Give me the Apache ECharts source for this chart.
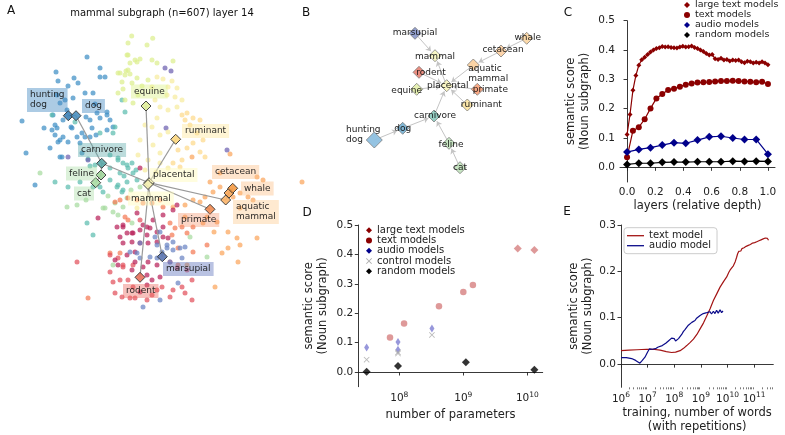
<!DOCTYPE html>
<html><head><meta charset="utf-8">
<script src="https://cdn.jsdelivr.net/npm/echarts@6/dist/echarts.min.js"></script>
<style>html,body{margin:0;padding:0;background:#fff}#c{width:785px;height:435px}</style>
</head><body><div id="c"></div>
<script>
const FONT = 'DejaVu Sans';
// ---------- Panel A: 2-D embedding of the mammal subgraph (layer 14) ----------
const aBlue = [[87,57],[56,72],[58,81],[74,78],[78,83],[68,86],[100,68],[100,77],[85,93],[53,115],[22,121],[67,110],[63,120],[71,127],[57,128],[55,135],[63,137],[58,142],[68,142],[82,133],[90,137],[96,135],[92,128],[86,117],[97,113],[100,118],[107,115],[62,157],[26,153],[35,185],[80,143],[110,120],[107,130],[73,98],[60,103],[95,104],[44,128],[105,77],[93,93],[57,95],[65,100],[55,125],[72,128],[52,130],[60,140],[77,137],[85,137],[90,120],[107,112],[113,127],[50,148],[60,157],[82,153]];
const aTeal = [[100,133],[115,127],[113,133],[88,159],[55,182],[68,187],[80,182],[90,166],[110,168],[110,180],[103,192],[120,173],[123,163],[128,168],[133,173],[137,180],[127,182],[132,163],[117,187],[122,192],[100,187],[93,187],[87,223],[93,235],[52,115],[75,122],[118,158],[124,176],[125,112],[122,100],[95,165],[110,155],[118,160],[127,165],[118,185],[123,190],[136,170]];
const aGreen = [[40,173],[77,205],[105,208],[115,203],[123,207],[118,215],[132,223],[67,207],[113,265],[190,237],[207,257],[108,196],[86,200],[140,187],[131,190],[127,198],[113,212],[103,208]];
const aPurple = [[165,68],[171,71],[166,128],[227,150],[68,157],[88,160]];
const aYellowGreen = [[131.7,36],[152.7,38.3],[128,43],[147,45],[128,55],[135,60],[140,59],[152,60],[157,63],[173,61],[126,71],[118,73],[130,74],[137,78],[148,80],[122,82],[132,83],[123,89],[125,100],[133,103],[142,86],[118,93],[138,95],[127,55],[130,63],[137,62],[120,73],[125,75],[128,70]];
const aPaleYellow = [[157,77],[163,79],[172,81],[152,87],[168,87],[177,88],[167,95],[175,97],[155,100],[160,107],[168,110],[177,107],[182,100],[157,118],[152,127],[160,135],[168,132],[153,145],[148,160],[160,153],[160,163],[168,168],[140,140],[145,125],[138,155],[145,170],[156,172],[137,208]];
const aYellow = [[182,115],[187,113],[193,118],[200,120],[185,120],[197,133],[203,140],[193,143],[187,148],[200,152],[205,157],[182,160],[173,163],[180,167],[190,125],[178,150]];
const aOrange = [[192,157],[230,154],[220,173],[210,182],[220,187],[213,192],[205,197],[193,200],[200,202],[233,197],[240,193],[248,197],[253,200],[257,177],[263,180],[302,182],[203,223],[217,222],[228,232],[237,238],[240,245],[257,238],[228,248],[222,253],[238,262],[215,287],[207,217],[185,217],[185,205],[173,207],[240,208],[214,232],[187,265]];
const aSalmon = [[163,207],[152,203],[143,203],[137,200],[128,198],[120,200],[115,202],[193,227],[193,252],[187,233],[182,227],[175,228],[170,223],[110,253],[120,253],[88,298],[125,217],[207,245],[160,200],[172,235],[178,248],[128,220],[178,265]];
const aRed = [[77,262],[140,220],[88,335],[125,348],[115,362],[118,322],[127,327],[125,332],[133,323],[138,317],[155,333],[150,347],[142,315],[147,300],[152,295],[157,290],[162,287],[173,290],[170,297],[175,322],[182,287],[185,293],[192,300],[192,280],[187,270],[177,268],[113,282],[120,280],[128,280],[133,287],[115,293],[122,297],[130,298],[135,298],[110,272],[123,267],[110,255],[123,265],[133,265],[170,262],[118,258]];
const aCrimson = [[98,218],[140,168],[117,227],[123,225],[147,227],[153,220],[157,232],[163,227],[118,265],[115,260],[135,262],[132,270],[143,267],[147,275],[160,277],[147,285],[152,280],[140,292],[163,237],[157,242],[148,243],[140,243],[132,242],[123,243],[120,237],[127,233],[133,233],[140,230],[147,235],[163,215],[173,210],[177,205],[137,213],[168,238],[123,227],[132,233],[143,225],[150,228],[135,252],[127,255],[148,262],[157,265]];
const aSlate = [[185,247],[180,248],[173,250],[170,262],[143,307],[182,258],[167,245],[173,242],[130,252],[137,253],[140,258],[150,257],[157,258],[162,252],[155,237],[178,283],[160,300],[160,232],[167,248],[157,245],[140,243]];
// concept nodes (name, dim1, dim2)
const aNodes = [['hunting dog',68.3,115.7],['dog',76,115.7],['equine',146,106],['ruminant',175.7,139.3],['carnivore',101.7,163.3],['feline',101,175],['cat',95.7,182.7],['placental',149,182.7],['mammal',148,184.5],['cetacean',229,193],['whale',232.7,188.3],['aquatic mammal',225.7,200],['primate',210,209.3],['marsupial',162.3,256.7],['rodent',140,277.3]];
// ---------- Panel B: hypernym graph (child -> parent) ----------
const bNodes = [['marsupial',85,33.3],['mammal',105,55.7],['rodent',89,72.3],['placental',116.7,85.7],['equine',86.7,89.3],['aquatic mammal',143.3,65],['primate',147.3,89.3],['ruminant',137.3,105],['cetacean',171,51],['whale',196.7,38.3],['carnivore',104,116],['dog',72.7,128.3],['hunting dog',44.3,140],['feline',119,143.3],['cat',130,167.7]];
const edges = [['hunting dog','dog'],['dog','carnivore'],['cat','feline'],['feline','carnivore'],['carnivore','placental'],['equine','placental'],['ruminant','placental'],['rodent','placental'],['primate','placental'],['aquatic mammal','placental'],['cetacean','aquatic mammal'],['whale','cetacean'],['placental','mammal'],['marsupial','mammal']];
// ---------- Panel C: semantic score vs relative layer depth ----------
const cLargeText = [0.112,0.180,0.263,0.313,0.348,0.367,0.375,0.385,0.393,0.400,0.405,0.408,0.412,0.410,0.411,0.409,0.408,0.407,0.410,0.413,0.410,0.411,0.414,0.409,0.405,0.400,0.395,0.388,0.383,0.385,0.370,0.368,0.372,0.366,0.368,0.363,0.366,0.364,0.366,0.360,0.357,0.362,0.360,0.356,0.358,0.356,0.360,0.356,0.350];
const cText = [0.034,0.125,0.137,0.164,0.201,0.235,0.250,0.264,0.268,0.275,0.282,0.286,0.289,0.290,0.291,0.293,0.294,0.294,0.295,0.294,0.293,0.292,0.290,0.292,0.284];
const cAudio = [0.052,0.061,0.067,0.076,0.084,0.082,0.093,0.104,0.106,0.100,0.095,0.095,0.045];
const cRandom = [0.010,0.014,0.014,0.017,0.018,0.018,0.019,0.019,0.019,0.021,0.020,0.021,0.020];
// ---------- Panel D: semantic score vs log10(number of parameters) ----------
const dLargeText = [[9.85,0.420],[10.11,0.415]];
const dText = [[7.855,0.117],[8.075,0.165],[8.62,0.224],[9.0,0.272],[9.15,0.296]];
const dAudio = [[7.49,0.083],[7.98,0.102],[7.98,0.076],[8.51,0.148]];
const dControl = [[7.49,0.042],[7.98,0.067],[7.98,0.063],[8.51,0.126]];
const dRandom = [[7.49,0.001],[7.98,0.020],[9.04,0.033],[10.11,0.008]];
// ---------- Panel E: semantic score vs log10(training words) ----------
const eText = [[6.0,0.029],[6.3,0.030],[6.6,0.031],[6.96,0.032],[7.2,0.032],[7.47,0.030],[7.7,0.027],[7.9,0.025],[8.05,0.026],[8.22,0.029],[8.35,0.034],[8.47,0.040],[8.6,0.047],[8.72,0.054],[8.85,0.064],[8.97,0.076],[9.1,0.089],[9.22,0.104],[9.35,0.120],[9.47,0.137],[9.6,0.152],[9.72,0.166],[9.85,0.178],[9.97,0.188],[10.05,0.198],[10.1,0.203],[10.16,0.206],[10.22,0.212],[10.29,0.221],[10.34,0.230],[10.38,0.238],[10.42,0.243],[10.46,0.246],[10.5,0.244],[10.54,0.249],[10.58,0.247],[10.62,0.251],[10.66,0.249],[10.7,0.254],[10.74,0.251],[10.78,0.256],[10.82,0.253],[10.86,0.258],[10.9,0.255],[10.94,0.261],[10.98,0.257],[11.02,0.262],[11.06,0.259],[11.1,0.264],[11.14,0.261],[11.18,0.266],[11.22,0.263],[11.26,0.268],[11.3,0.265],[11.34,0.270],[11.38,0.266],[11.42,0.272],[11.46,0.268],[11.5,0.271],[11.54,0.267]];
const eAudio = [[6.0,0.014],[6.2,0.014],[6.4,0.012],[6.55,0.008],[6.71,0.002],[6.8,0.008],[6.9,0.015],[7.0,0.026],[7.07,0.033],[7.12,0.035],[7.18,0.032],[7.25,0.036],[7.32,0.034],[7.4,0.037],[7.47,0.036],[7.55,0.040],[7.62,0.043],[7.68,0.045],[7.72,0.047],[7.78,0.050],[7.84,0.053],[7.9,0.056],[7.95,0.052],[8.0,0.055],[8.05,0.050],[8.1,0.053],[8.16,0.055],[8.22,0.059],[8.28,0.064],[8.34,0.070],[8.41,0.075],[8.47,0.079],[8.53,0.084],[8.6,0.088],[8.66,0.090],[8.72,0.093],[8.78,0.094],[8.84,0.099],[8.9,0.101],[8.97,0.105],[9.03,0.103],[9.09,0.109],[9.15,0.106],[9.22,0.111],[9.28,0.107],[9.34,0.113],[9.4,0.108],[9.47,0.114],[9.53,0.109],[9.59,0.116],[9.65,0.110],[9.72,0.117],[9.78,0.111],[9.83,0.115]];
const yTicksCD = [0,0.1,0.2,0.3,0.4,0.5];
const xTicksC = [0,0.2,0.4,0.6,0.8,1.0];
const yTicksE = [0,0.1,0.2,0.3];
const xDecadesD = [8,9,10];
const xDecadesE = [6,7,8,9,10,11];

// ---------- styles ----------
const aNodeStyle = {
 'hunting dog':{c:'#3a7fb5',bg:'rgba(70,140,195,0.5)',dx:-41.3,dy:-15.7,t:'hunting\ndog'},
 'dog':{c:'#4a8fbf',bg:'rgba(70,140,195,0.5)',dx:6,dy:-9.7},
 'equine':{c:'#e0ee9a',bg:'rgba(225,242,150,0.55)',dx:-15,dy:-14.5},
 'ruminant':{c:'#fcd77f',bg:'rgba(254,232,160,0.5)',dx:6.3,dy:-8.3},
 'carnivore':{c:'#5aa9a9',bg:'rgba(90,170,170,0.45)',dx:-23.7,dy:-13.3},
 'feline':{c:'#9fd49a',bg:'rgba(170,220,165,0.45)',dx:-35,dy:-1.5},
 'cat':{c:'#a9dba3',bg:'rgba(170,220,165,0.45)',dx:-21.7,dy:10.8},
 'placental':{c:'#f6f2b8',bg:'rgba(255,250,190,0.55)',dx:1,dy:-7.7},
 'mammal':{c:'#f4efb5',bg:'rgba(255,250,190,0.55)',dx:-20,dy:14},
 'cetacean':{c:'#f8a658',bg:'rgba(252,190,130,0.45)',dx:-17,dy:-21},
 'whale':{c:'#f49a45',bg:'rgba(252,190,130,0.45)',dx:8.3,dy:0.2},
 'aquatic mammal':{c:'#fbb469',bg:'rgba(252,200,140,0.45)',dx:7.3,dy:12,t:'aquatic\nmammal'},
 'primate':{c:'#f08a50',bg:'rgba(245,140,100,0.4)',dx:-32,dy:10.7},
 'marsupial':{c:'#5b74b0',bg:'rgba(100,120,190,0.5)',dx:0.7,dy:12.3},
 'rodent':{c:'#e8705a',bg:'rgba(235,100,90,0.45)',dx:-17,dy:13.7}
};
const bNodeStyle = {
 'marsupial':{c:'#8e9ccc',dx:0,dy:-1},'mammal':{c:'#f7f5c2',dx:0,dy:1},'rodent':{c:'#e8887a',dx:12,dy:0},
 'placental':{c:'#f9f4c0',dx:1,dy:0},'equine':{c:'#e6f0b0',dx:-10,dy:1},
 'aquatic mammal':{c:'#fcd2a0',dx:-5,dy:8.3,al:'left',t:'aquatic\nmammal'},
 'primate':{c:'#f9a47e',dx:13,dy:0},'ruminant':{c:'#fbe5a4',dx:14,dy:0},'cetacean':{c:'#fcd2a6',dx:2,dy:-1},
 'whale':{c:'#fcd8a6',dx:1,dy:-1},'carnivore':{c:'#8fcac0',dx:1,dy:0},'dog':{c:'#7ab3d4',dx:0,dy:0},
 'hunting dog':{c:'#8ec0e0',dx:-28.3,dy:-5.7,al:'left',t:'hunting\ndog',s:16},
 'feline':{c:'#c4e4bf',dx:2,dy:1},'cat':{c:'#c4e4bf',dx:0,dy:0}
};
const DARKRED = '#8b0000', NAVY = '#00008b';
const XPATH = 'path://M0,1L1,0L5,4L9,0L10,1L6,5L10,9L9,10L5,6L1,10L0,9L4,5Z';
const axLine = {lineStyle:{color:'#222',width:0.9}};
const axTick = (vals)=>({show:true,length:3.5,customValues:vals,lineStyle:{color:'#222',width:0.9}});
const axLab = (vals,fmt)=>({customValues:vals,fontFamily:FONT,fontSize:10.5,color:'#222',margin:5,formatter:fmt});
const nameStyle = {fontFamily:FONT,fontSize:11.5,color:'#222',lineHeight:14};
const logFmt = v=>'{b|10}{s|'+Math.round(v)+'}';
const logRich = {b:{fontFamily:FONT,fontSize:10.5,color:'#222'},s:{fontFamily:FONT,fontSize:7.5,color:'#222',padding:[0,0,7,0]}};
const minorE = [];
xDecadesE.forEach(d=>{for(let k=2;k<=9;k++){const v=d+Math.log10(k); if(v<11.72) minorE.push(v);}});

const hidden = (gi,min,max,inv)=>({type:'value',gridIndex:gi,min,max,show:false,inverse:!!inv});
const dotSeries = [[aBlue,'#3f8fc5'],[aTeal,'#5cbcae'],[aGreen,'#a6dba0'],[aPurple,'#6c5fb0'],[aYellowGreen,'#dcef8e'],[aPaleYellow,'#f6ec9e'],[aYellow,'#fdd98a'],[aOrange,'#fba55c'],[aSalmon,'#f47a55'],[aRed,'#e2505c'],[aCrimson,'#b8235a'],[aSlate,'#6a83c4']].map(([d,c])=>({
  type:'scatter',xAxisIndex:0,yAxisIndex:0,data:d,symbolSize:5,silent:true,z:1,
  itemStyle:{color:c,opacity:0.72}
}));

const option = {
 backgroundColor:'#fff', animation:false,
 textStyle:{fontFamily:FONT},
 grid:[
  {left:0,top:0,width:330,height:310},
  {left:330,top:0,width:220,height:220},
  {left:620,top:20.7,width:155,height:161.3},
  {left:358.3,top:225,width:184.4,height:161.7},
  {left:621,top:225,width:152.3,height:162.3}
 ],
 xAxis:[
  hidden(0,0,330), hidden(1,0,220),
  {type:'value',gridIndex:2,min:-0.05,max:1.05,axisLine:axLine,axisTick:axTick(xTicksC),axisLabel:axLab(xTicksC,v=>v.toFixed(1)),splitLine:{show:false},
   name:'layers (relative depth)',nameLocation:'middle',nameGap:14,nameTextStyle:nameStyle},
  {type:'value',gridIndex:3,min:7.36,max:10.24,axisLine:axLine,axisTick:axTick(xDecadesD),axisLabel:Object.assign(axLab(xDecadesD,logFmt),{rich:logRich,margin:4}),splitLine:{show:false},
   name:'number of parameters',nameLocation:'middle',nameGap:21,nameTextStyle:nameStyle},
  {type:'value',gridIndex:4,min:6,max:11.72,axisLine:axLine,axisTick:axTick(xDecadesE),axisLabel:Object.assign(axLab(xDecadesE,logFmt),{rich:logRich,margin:4}),splitLine:{show:false},
   name:'training, number of words\n(with repetitions)',nameLocation:'middle',nameGap:19,nameTextStyle:Object.assign({},nameStyle,{lineHeight:13.5,verticalAlign:'top'})},
  {type:'value',gridIndex:4,position:'bottom',min:6,max:11.72,axisLine:{show:false},axisTick:{show:true,length:2,customValues:minorE,lineStyle:{color:'#222',width:0.6}},axisLabel:{show:false},splitLine:{show:false}}
 ],
 yAxis:[
  hidden(0,0,310,true), hidden(1,0,220,true),
  {type:'value',gridIndex:2,min:-0.05,max:0.5,axisLine:axLine,axisTick:axTick(yTicksCD),axisLabel:axLab(yTicksCD,v=>v.toFixed(1)),splitLine:{show:false},
   name:'semantic score\n(Noun subgraph)',nameLocation:'middle',nameGap:28,nameTextStyle:nameStyle},
  {type:'value',gridIndex:3,min:-0.05,max:0.5,axisLine:axLine,axisTick:axTick(yTicksCD),axisLabel:axLab(yTicksCD,v=>v.toFixed(1)),splitLine:{show:false},
   name:'semantic score\n(Noun subgraph)',nameLocation:'middle',nameGap:28,nameTextStyle:nameStyle},
  {type:'value',gridIndex:4,min:-0.05,max:0.3,axisLine:axLine,axisTick:axTick(yTicksE),axisLabel:axLab(yTicksE,v=>v.toFixed(1)),splitLine:{show:false},
   name:'semantic score\n(Noun subgraph)',nameLocation:'middle',nameGap:26,nameTextStyle:nameStyle}
 ],
 legend:[
  {left:684,top:0,orient:'vertical',padding:0,itemGap:0,itemWidth:6,itemHeight:6,selectedMode:false,
   textStyle:{fontFamily:FONT,fontSize:9.5,color:'#222',lineHeight:10},
   data:[{name:'large text models',icon:'diamond'},{name:'text models',icon:'circle'},{name:'audio models',icon:'diamond'},{name:'random models',icon:'diamond'}]},
  {left:366,top:225,orient:'vertical',padding:0,itemGap:0,itemWidth:6,itemHeight:6,selectedMode:false,
   textStyle:{fontFamily:FONT,fontSize:10,color:'#222',lineHeight:10.3},
   data:[{name:'large text models',icon:'diamond'},{name:'text models',icon:'circle'},{name:'audio models',icon:'diamond'},{name:'control models',icon:XPATH,itemStyle:{color:'#999'}},{name:'random models',icon:'diamond'}]},
  {left:624,top:227.7,orient:'vertical',padding:[3,6,3,3],itemGap:0,itemWidth:17,itemHeight:1.3,selectedMode:false,
   borderColor:'#ccc',borderWidth:1,borderRadius:3,
   textStyle:{fontFamily:FONT,fontSize:10,color:'#222',lineHeight:10},
   data:[{name:'text model',icon:'rect'},{name:'audio model',icon:'rect'}]}
 ],
 graphic:[
  {type:'text',x:11,y:11,style:{text:'A',font:'12px '+FONT,fill:'#111',textAlign:'center',textVerticalAlign:'middle'}},
  {type:'text',x:306,y:13,style:{text:'B',font:'12px '+FONT,fill:'#111',textAlign:'center',textVerticalAlign:'middle'}},
  {type:'text',x:568,y:13,style:{text:'C',font:'12px '+FONT,fill:'#111',textAlign:'center',textVerticalAlign:'middle'}},
  {type:'text',x:307,y:213,style:{text:'D',font:'12px '+FONT,fill:'#111',textAlign:'center',textVerticalAlign:'middle'}},
  {type:'text',x:567,y:212,style:{text:'E',font:'12px '+FONT,fill:'#111',textAlign:'center',textVerticalAlign:'middle'}},
  {type:'text',x:162,y:13,style:{text:'mammal subgraph (n=607) layer 14',font:'10px '+FONT,fill:'#111',textAlign:'center',textVerticalAlign:'middle'}}
 ],
 series:[
  ...dotSeries,
  {type:'graph',coordinateSystem:'cartesian2d',xAxisIndex:0,yAxisIndex:0,z:3,silent:true,
   symbol:'diamond',symbolSize:10,
   data:aNodes.map(n=>{const s=aNodeStyle[n[0]];return {name:n[0],value:[n[1],n[2]],
     itemStyle:{color:s.c,borderColor:'#333',borderWidth:1,opacity:0.9},
     label:{show:true,position:'inside',align:'left',verticalAlign:'middle',offset:[s.dx,s.dy],formatter:s.t||n[0],
       fontFamily:FONT,fontSize:9,lineHeight:10,color:'#111',backgroundColor:s.bg,padding:[2,3]}};}),
   links:edges.map(e=>({source:e[0],target:e[1]})),
   lineStyle:{color:'#999',width:1.2,opacity:1}},
  {type:'graph',coordinateSystem:'cartesian2d',xAxisIndex:1,yAxisIndex:1,z:3,silent:true,
   symbol:'diamond',edgeSymbol:['none','arrow'],edgeSymbolSize:5,
   data:bNodes.map(n=>{const s=bNodeStyle[n[0]];return {name:n[0],value:[n[1],n[2]],symbolSize:s.s||12,
     itemStyle:{color:s.c,borderColor:'#777',borderWidth:0.8,opacity:0.95},
     label:{show:true,position:'inside',align:s.al||'center',verticalAlign:'middle',offset:[s.dx,s.dy],formatter:s.t||n[0],
       fontFamily:FONT,fontSize:9,lineHeight:10,color:'#111'}};}),
   links:edges.map(e=>({source:e[0],target:e[1]})),
   lineStyle:{color:'#c4c4c4',width:1,opacity:1}},
  // panel C
  {name:'large text models',type:'line',xAxisIndex:2,yAxisIndex:2,data:cLargeText.map((v,i)=>[i/(cLargeText.length-1),v]),
   symbol:'diamond',symbolSize:5,showAllSymbol:true,color:DARKRED,lineStyle:{width:1.2}},
  {name:'text models',type:'line',xAxisIndex:2,yAxisIndex:2,data:cText.map((v,i)=>[i/(cText.length-1),v]),
   symbol:'circle',symbolSize:6,showAllSymbol:true,color:DARKRED,lineStyle:{width:1.2}},
  {name:'audio models',type:'line',xAxisIndex:2,yAxisIndex:2,data:cAudio.map((v,i)=>[i/(cAudio.length-1),v]),
   symbol:'diamond',symbolSize:8,showAllSymbol:true,color:NAVY,lineStyle:{width:1.2}},
  {name:'random models',type:'line',xAxisIndex:2,yAxisIndex:2,data:cRandom.map((v,i)=>[i/(cRandom.length-1),v]),
   symbol:'diamond',symbolSize:8,showAllSymbol:true,color:'#000',lineStyle:{width:1.2}},
  // panel D
  {name:'large text models',type:'scatter',xAxisIndex:3,yAxisIndex:3,data:dLargeText,symbol:'diamond',symbolSize:8,itemStyle:{color:'rgba(200,85,85,0.75)'}},
  {name:'text models',type:'scatter',xAxisIndex:3,yAxisIndex:3,data:dText,symbol:'circle',symbolSize:6.5,itemStyle:{color:'rgba(200,85,85,0.75)'}},
  {name:'audio models',type:'scatter',xAxisIndex:3,yAxisIndex:3,data:dAudio,symbol:'diamond',symbolSize:[5,8],itemStyle:{color:'rgba(70,70,190,0.7)'}},
  {name:'control models',type:'scatter',xAxisIndex:3,yAxisIndex:3,data:dControl,symbol:XPATH,symbolSize:6,itemStyle:{color:'#aaa'}},
  {name:'random models',type:'scatter',xAxisIndex:3,yAxisIndex:3,data:dRandom,symbol:'diamond',symbolSize:8,itemStyle:{color:'#000'}},
  // panel E
  {name:'text model',type:'line',xAxisIndex:4,yAxisIndex:4,data:eText,symbol:'none',color:'#a31515',lineStyle:{width:1.2}},
  {name:'audio model',type:'line',xAxisIndex:4,yAxisIndex:4,data:eAudio,symbol:'none',color:'#0b0b8a',lineStyle:{width:1.2}}
 ]
};
const chart = echarts.init(document.getElementById('c'),null,{renderer:'canvas'});
chart.setOption(option);
</script></body></html>
